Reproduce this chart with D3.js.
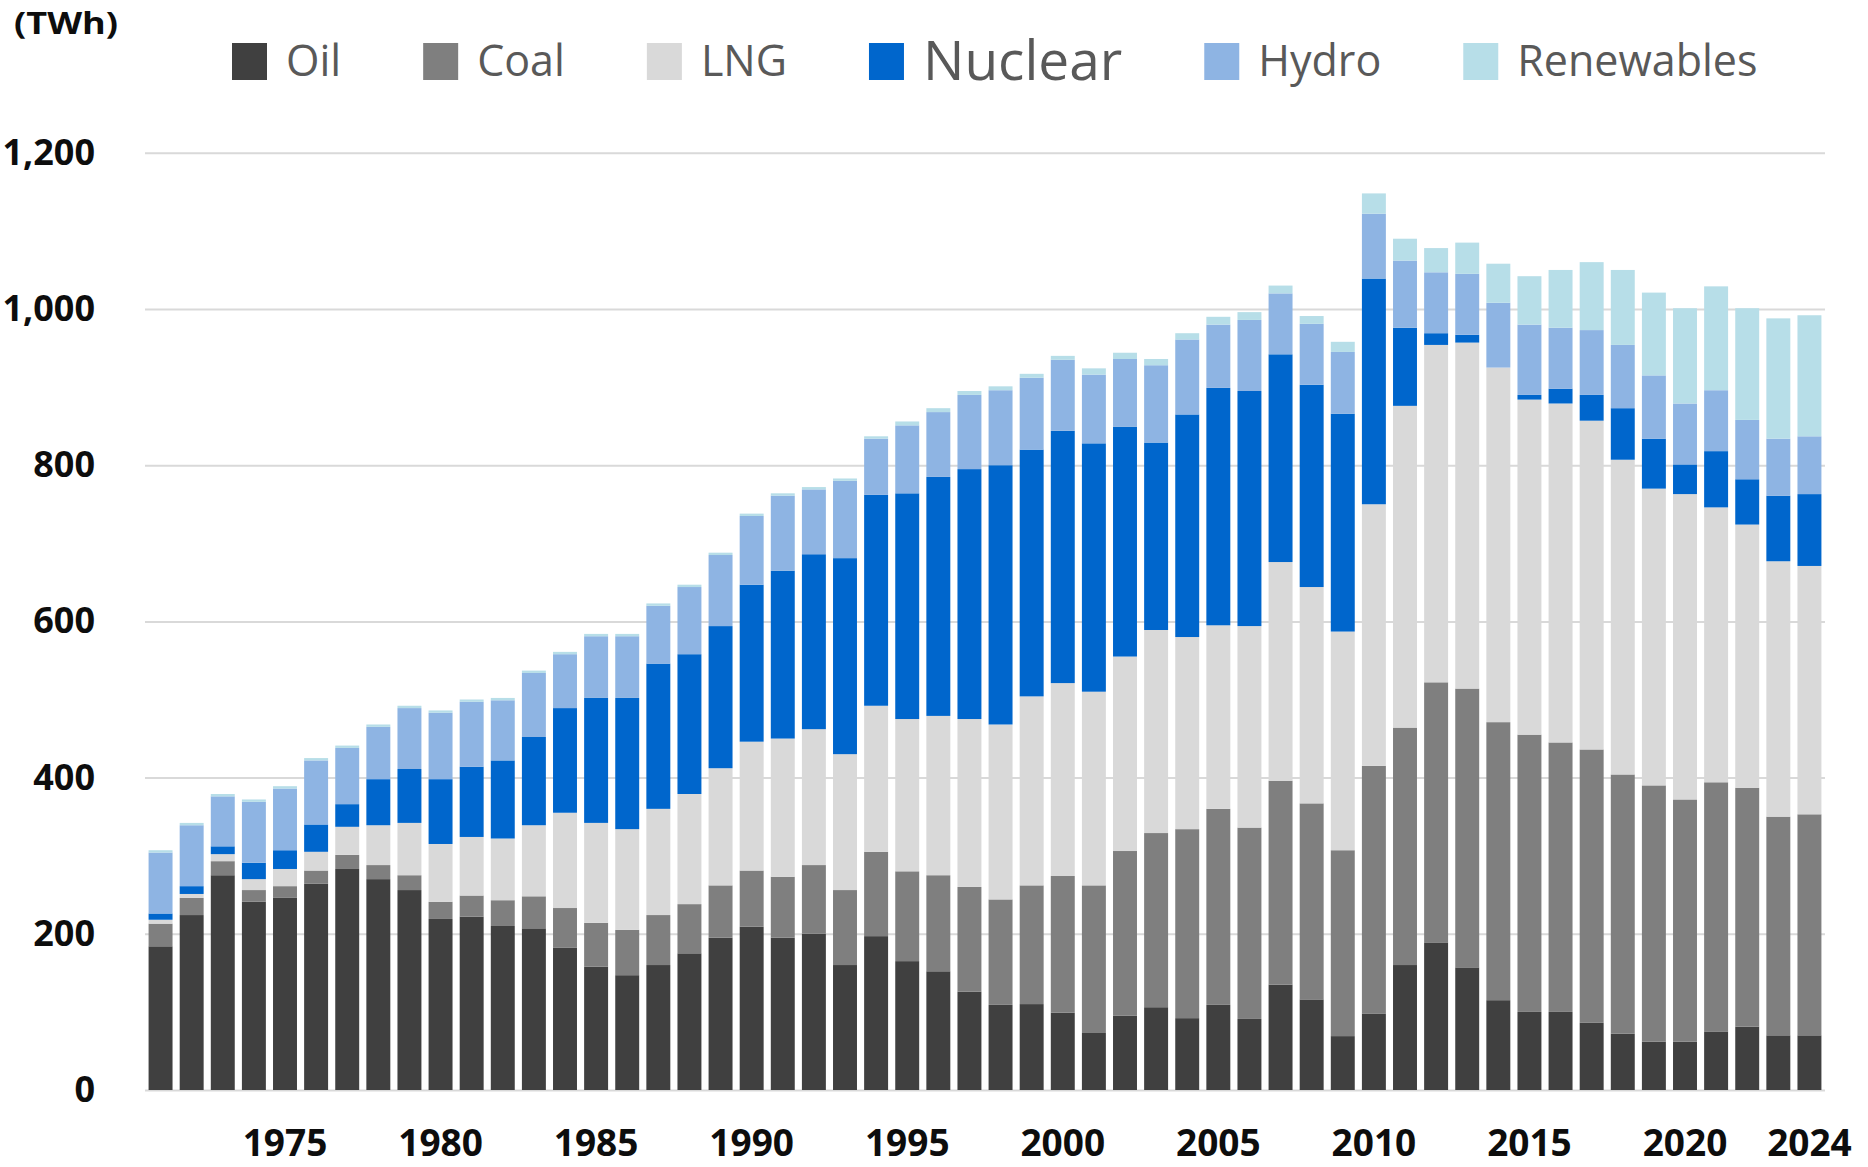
<!DOCTYPE html>
<html>
<head>
<meta charset="utf-8">
<script src="https://cdn.jsdelivr.net/npm/d3@7/dist/d3.min.js"></script>
<style>
  body { margin: 0; background: white; }
</style>
</head>
<body>
<main></main>
<script>
/* electricity generation by source (TWh) */

let years = [1971, 1972, 1973, 1974, 1975, 1976, 1977, 1978, 1979, 1980,
    1981, 1982, 1983, 1984, 1985, 1986, 1987, 1988, 1989, 1990,
    1991, 1992, 1993, 1994, 1995, 1996, 1997, 1998, 1999, 2000,
    2001, 2002, 2003, 2004, 2005, 2006, 2007, 2008, 2009, 2010,
    2011, 2012, 2013, 2014, 2015, 2016, 2017, 2018, 2019, 2020,
    2021, 2022, 2023, 2024]

let oil = [184, 224, 275, 241, 246, 264, 283, 270, 256, 219,
    222, 210, 207, 182, 158, 147, 160, 175, 195, 209,
    195, 200, 160, 197, 165, 152, 126, 109, 110, 99,
    73, 95, 106, 92, 109, 91, 135, 116, 69, 98,
    160, 189, 157, 115, 100, 100, 86, 72, 62, 62,
    75, 81, 70, 70]

let coal = [29, 22, 18, 15, 15, 17, 18, 18, 19, 22,
    27, 33, 41, 51, 56, 58, 64, 63, 67, 72,
    78, 88, 96, 108, 115, 123, 134, 135, 152, 175,
    189, 211, 223, 242, 251, 245, 261, 251, 238, 317,
    304, 333, 357, 356, 355, 345, 350, 332, 328, 310,
    319, 306, 280, 283]

let lng = [5, 5, 9, 14, 22, 24, 36, 51, 67, 74,
    75, 79, 91, 122, 128, 129, 136, 141, 150, 165,
    177, 174, 174, 187, 195, 204, 215, 224, 242, 247,
    248, 249, 260, 246, 235, 258, 280, 277, 280, 335,
    412, 432, 443, 454, 429, 434, 421, 403, 380, 391,
    352, 337, 327, 318]

let nuclear = [8, 10, 10, 21, 24, 35, 29, 59, 69, 83,
    90, 100, 113, 134, 160, 168, 186, 179, 182, 201,
    215, 224, 251, 270, 289, 306, 320, 332, 316, 323,
    318, 294, 240, 285, 304, 301, 266, 259, 279, 289,
    100, 15, 10, 0, 6, 19, 33, 66, 64, 38,
    72, 58, 84, 92]

let hydro = [78, 78, 64, 78, 79, 82, 72, 67, 78, 85,
    83, 77, 82, 69, 79, 79, 74, 86, 91, 88,
    96, 83, 99, 72, 87, 83, 95, 96, 92, 91,
    88, 87, 99, 96, 81, 91, 78, 78, 79, 83,
    86, 78, 78, 83, 90, 78, 83, 81, 81, 78,
    78, 76, 73, 74]

let renewables = [3, 3, 3, 3, 3, 3, 3, 3, 3, 3,
    3, 3, 3, 3, 3, 3, 3, 3, 3, 3,
    3, 3, 3, 3, 5, 5, 5, 5, 5, 5,
    8, 8, 8, 8, 10, 10, 10, 10, 13, 26,
    28, 31, 40, 50, 62, 74, 87, 96, 106, 122,
    133, 143, 154, 155]

let seriesNames = ["Oil", "Coal", "LNG", "Nuclear", "Hydro", "Renewables"]
let seriesColors = ["#404040", "#7f7f7f", "#d9d9d9", "#0066cc", "#8eb4e3", "#b7dee8"]

let yTicks = [0, 200, 400, 600, 800, 1000, 1200]
let xTickYears = [1975, 1980, 1985, 1990, 1995, 2000, 2005, 2010, 2015, 2020, 2024]

const svgWidth = 1868
const svgHeight = 1167

const plotLeft = 145
const plotRight = 1825
const plotTop = 152.8
const plotBottom = 1090

//build the table for d3.stack
let seriesValues = [oil, coal, lng, nuclear, hydro, renewables]
let table = years.map((y, i) => {
    let row = { year: y }
    seriesNames.forEach((name, k) => { row[name] = seriesValues[k][i] })
    return row
})

let stacked = d3.stack().keys(seriesNames)(table)

//add SVG to main
let svg = d3.select("main")
    .append("svg")
    .attr("width", svgWidth)
    .attr("height", svgHeight)
    .style("display", "block")
    .style("background-color", "white")

//create scales
let xScale = d3.scaleBand()
    .domain(years)
    .range([plotLeft, plotRight])
    .paddingInner(0.23)
    .paddingOuter(0.115)

let yScale = d3.scaleLinear()
    .domain([0, 1200])
    .range([plotBottom, plotTop])

let cScale = d3.scaleOrdinal()
    .domain(seriesNames)
    .range(seriesColors)

//gridlines
let grid = svg.append("g")
    .attr("transform", `translate(${plotLeft}, 0)`)
    .call(d3.axisLeft(yScale)
        .tickValues(yTicks)
        .tickSize(-(plotRight - plotLeft))
        .tickFormat(""))

grid.select(".domain").remove()
grid.selectAll("line")
    .style("stroke", "#d9d9d9")
    .style("stroke-width", 2)

//bars
svg.append("g")
    .selectAll("g")
    .data(stacked)
    .enter()
    .append("g")
    .attr("fill", (d) => cScale(d.key))
    .selectAll("rect")
    .data((d) => d)
    .enter()
    .append("rect")
    .attr("x", (d) => xScale(d.data.year))
    .attr("y", (d) => yScale(d[1]))
    .attr("width", xScale.bandwidth())
    .attr("height", (d) => yScale(d[0]) - yScale(d[1]))

//y axis labels
let yAxis = svg.append("g")
    .attr("transform", `translate(${plotLeft}, 0)`)
    .call(d3.axisLeft(yScale)
        .tickValues(yTicks)
        .tickSize(0)
        .tickPadding(50)
        .tickFormat(d3.format(",")))

yAxis.select(".domain").remove()
yAxis.selectAll("text")
    .style("font-family", "'Open Sans', sans-serif")
    .style("font-weight", "bold")
    .style("font-size", "36px")
    .style("fill", "#0d0d0d")

//x axis labels
let xAxis = svg.append("g")
    .attr("transform", `translate(0, ${plotBottom})`)
    .call(d3.axisBottom(xScale)
        .tickValues(xTickYears)
        .tickSize(0)
        .tickPadding(40))

xAxis.select(".domain").remove()
xAxis.selectAll("text")
    .style("font-family", "'Open Sans', sans-serif")
    .style("font-weight", "bold")
    .style("font-size", "37px")
    .style("fill", "#0d0d0d")

//unit label
svg.append("text")
    .attr("x", 14)
    .attr("y", 34)
    .attr("textLength", 104)
    .attr("lengthAdjust", "spacingAndGlyphs")
    .style("font-family", "'Open Sans', sans-serif")
    .style("font-weight", "bold")
    .style("font-size", "31px")
    .style("fill", "#0d0d0d")
    .text("(TWh)")

//legend, laid out left to right
let legend = svg.append("g")
let legendX = 232
seriesNames.forEach((name) => {
    let big = name === "Nuclear"
    legend.append("rect")
        .attr("x", legendX)
        .attr("y", 43)
        .attr("width", 35)
        .attr("height", 37)
        .attr("fill", cScale(name))
    let t = legend.append("text")
        .attr("x", legendX + 54)
        .attr("y", big ? 80 : 76)
        .style("font-family", "'Open Sans', sans-serif")
        .style("font-size", big ? "55px" : "43px")
        .style("fill", "#595959")
        .text(name)
    legendX += 54 + t.node().getComputedTextLength() + 82
})
</script>
</body>
</html>
